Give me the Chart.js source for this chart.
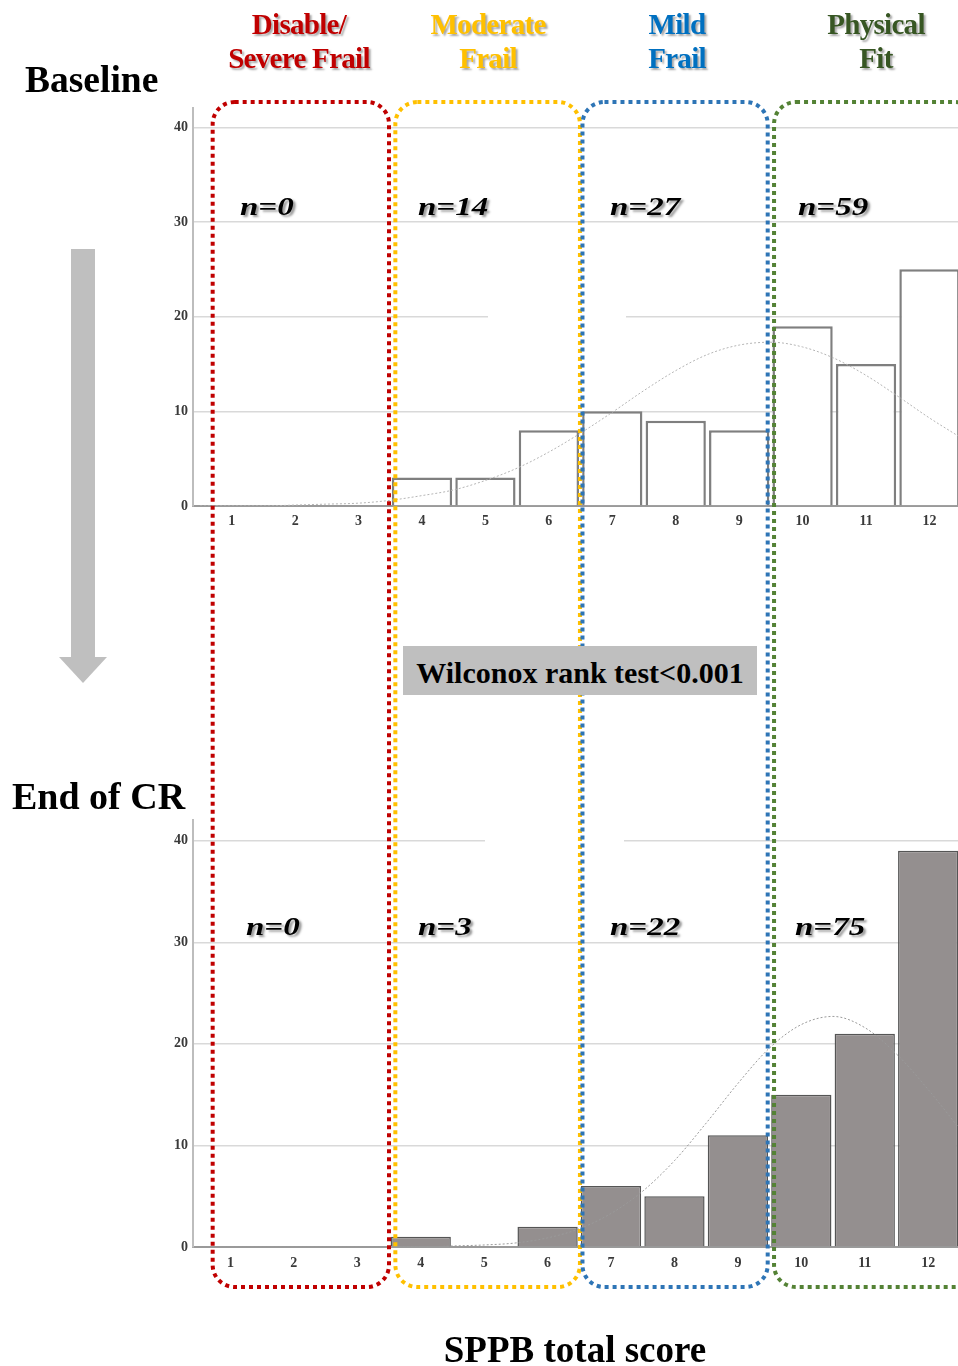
<!DOCTYPE html>
<html><head><meta charset="utf-8">
<script src="https://cdn.jsdelivr.net/npm/chart.js@4.4.1/dist/chart.umd.min.js"></script>
<style>
html,body{margin:0;padding:0;background:#fff;}
#wrap{position:relative;width:958px;height:1366px;overflow:hidden;background:#fff;font-family:"Liberation Serif","Times New Roman",serif;}
canvas{position:absolute;}
.t{position:absolute;white-space:nowrap;font-weight:bold;line-height:1;color:#000;}
.hd{position:absolute;width:240px;text-align:center;font-weight:bold;font-size:29px;line-height:34px;letter-spacing:-0.7px;text-shadow:2px 2px 2px rgba(0,0,0,0.35);white-space:nowrap;}
.n{position:absolute;font-weight:bold;font-style:italic;font-size:26px;line-height:1;transform:scaleX(1.27);transform-origin:0 0;text-shadow:2px 2px 2px rgba(0,0,0,0.4);color:#000;white-space:nowrap;}
#wil{position:absolute;left:403px;top:646px;width:354px;height:47px;padding-top:2px;background:#BFBFBF;text-align:center;font-weight:bold;font-size:30px;line-height:49px;color:#000;white-space:nowrap;}
</style></head>
<body><div id="wrap">
<canvas id="top" width="800" height="436" style="left:158px;top:95px;width:800px;height:436px"></canvas>
<canvas id="bot" width="800" height="465" style="left:158px;top:807px;width:800px;height:465px"></canvas>
<canvas id="ov" width="958" height="1366" style="left:0;top:0;width:958px;height:1366px"></canvas>
<div class="t" style="left:25px;top:61px;font-size:37.5px;">Baseline</div>
<div class="t" style="left:12px;top:777px;font-size:38px;">End of CR</div>
<div class="t" style="left:0;width:1150px;text-align:center;top:1331px;font-size:37px;">SPPB total score</div>
<div id="wil">Wilconox rank test&lt;0.001</div>
<div id="labels"></div>
</div>
<script>
// ---- data ----
const scores = [1,2,3,4,5,6,7,8,9,10,11,12];
const baselineCounts = [0,0,0,3,3,8,10,9,8,19,15,25];
const endCounts = [0,0,0,1,0,2,6,5,11,15,21,39];
const yTicks = [0,10,20,30,40];
const curveX = [0.5,1,1.5,2,2.5,3,3.5,4,4.5,5,5.5,6,6.5,7,7.5,8,8.5,9,9.5,10,10.5,11,11.5,12,12.5];
const baselineCurve = [0.0,0.0,0.0,0.1,0.2,0.3,0.6,1.1,1.7,2.7,4.0,5.7,7.7,9.9,12.2,14.3,16.0,17.0,17.3,16.8,15.6,13.8,11.6,9.3,7.2];
const endCurve = [0.0,0.0,0.0,0.0,0.0,0.0,0.0,0.0,0.1,0.2,0.4,0.9,1.8,3.3,5.5,8.5,12.2,16.1,19.6,21.9,22.7,21.6,19.0,15.5,11.6];
const groupLine1 = ["Disable/","Moderate","Mild","Physical"];
const groupLine2 = ["Severe Frail","Frail","Frail","Fit"];
const groupScores = [[1,2,3],[4,5,6],[7,8,9],[10,11,12]];

// ---- layout / style ----
const groupColors = ['#C00000','#FFC000','#2E75B6','#548235'];
const headColors = ['#C00000','#FFC000','#0070C0','#375623'];
const headCenters = [299,488,677,876];
const boxStart = [0.7,3.58,6.53,9.55];
const boxEnd = [3.48,6.49,9.45,12.75];
const nTopLeft = [240,418,610,798];
const nBotLeft = [246,418,610,795];

function makeChart(id, counts, curve, o) {
  return new Chart(document.getElementById(id), {
    type: 'bar',
    data: {
      datasets: [
        { type:'line', data: curveX.map((x,i)=>({x:x, y:curve[i]})), borderColor:o.curveColor, borderWidth:1,
          borderDash:[2,2], pointRadius:0, cubicInterpolationMode:'monotone', fill:false, order:0 },
        { type:'bar', data: scores.map((s,i)=>({x:s, y:counts[i]})), backgroundColor:o.fill, borderColor:o.border,
          borderWidth:o.bw, barPercentage:0.95, categoryPercentage:1, order:1 }
      ]
    },
    options: {
      responsive:false, animation:false, devicePixelRatio:1,
      layout:{padding:{top:8,left:0,right:0,bottom:0}},
      plugins:{legend:{display:false}, tooltip:{enabled:false}},
      scales:{
        x:{ type:'linear', min:o.xmin, max:o.xmax, offset:false,
            grid:{display:false, drawTicks:false, offset:false},
            border:{display:true, color:'#9a9a9a', width:2},
            ticks:{padding:o.xpad, autoSkip:false, maxRotation:0, color:'#3a3a3a',
                   font:{family:'Liberation Serif', size:14, weight:'bold'}},
            afterBuildTicks: s => { s.ticks = scores.map(v => ({value:v})); },
            afterFit: s => { s.height = 25; } },
        y:{ type:'linear', min:0, max:42,
            grid:{color:'#d9d9d9', lineWidth:1.5, drawTicks:false},
            border:{display:true, color:'#bdbdbd', width:2},
            ticks:{padding:5, color:'#3a3a3a', font:{family:'Liberation Serif', size:14, weight:'bold'}},
            afterBuildTicks: s => { s.ticks = yTicks.map(v => ({value:v})); },
            afterFit: s => { s.width = 35; } }
      }
    }
  });
}

const topC = makeChart('top', baselineCounts, baselineCurve,
  {xmin:0.39, xmax:12.45, xpad:7, fill:'#ffffff', border:'#7f7f7f', bw:2.5, curveColor:'#b5b5b5'});
const botC = makeChart('bot', endCounts, endCurve,
  {xmin:0.41, xmax:12.47, xpad:8, fill:'#948f8f', border:'#555555', bw:1.5, curveColor:'#9a9a9a'});

// ---- labels ----
const lab = document.getElementById('labels');
function sumGroup(counts, g){ return g.reduce((a,s)=>a+counts[scores.indexOf(s)],0); }
groupLine1.forEach((t,i)=>{
  const d = document.createElement('div');
  d.className='hd'; d.style.left=(headCenters[i]-120)+'px'; d.style.top='7px'; d.style.color=headColors[i];
  d.innerHTML = t + '<br>' + groupLine2[i];
  lab.appendChild(d);
});
groupScores.forEach((g,i)=>{
  const a = document.createElement('div');
  a.className='n'; a.style.left=nTopLeft[i]+'px'; a.style.top='194px';
  a.textContent='n='+sumGroup(baselineCounts,g); lab.appendChild(a);
  const b = document.createElement('div');
  b.className='n'; b.style.left=nBotLeft[i]+'px'; b.style.top='914px';
  b.textContent='n='+sumGroup(endCounts,g); lab.appendChild(b);
});

// ---- overlay: arrow, grid gaps, dotted group boxes ----
const ctx = document.getElementById('ov').getContext('2d');
ctx.fillStyle='#BFBFBF';
ctx.fillRect(71,249,24,409);
ctx.beginPath(); ctx.moveTo(59,657); ctx.lineTo(107,657); ctx.lineTo(83,683); ctx.closePath(); ctx.fill();

ctx.strokeStyle='#ffffff'; ctx.lineWidth=3;
let gy = 95 + topC.scales.y.getPixelForValue(20);
ctx.beginPath(); ctx.moveTo(488,gy); ctx.lineTo(626,gy); ctx.stroke();
gy = 807 + botC.scales.y.getPixelForValue(40);
ctx.beginPath(); ctx.moveTo(485,gy); ctx.lineTo(624,gy); ctx.stroke();

function px(v){ return 158 + topC.scales.x.getPixelForValue(v); }
function rrect(x0,y0,x1,y1,r){
  ctx.beginPath();
  ctx.moveTo(x0+r,y0);
  ctx.lineTo(x1-r,y0); ctx.arcTo(x1,y0,x1,y0+r,r);
  ctx.lineTo(x1,y1-r); ctx.arcTo(x1,y1,x1-r,y1,r);
  ctx.lineTo(x0+r,y1); ctx.arcTo(x0,y1,x0,y1-r,r);
  ctx.lineTo(x0,y0+r); ctx.arcTo(x0,y0,x0+r,y0,r);
  ctx.closePath();
}
ctx.lineWidth=4; ctx.setLineDash([4,4]); ctx.lineCap='butt';
boxStart.forEach((s,i)=>{
  ctx.strokeStyle=groupColors[i];
  rrect(px(s), 102, px(boxEnd[i]), 1287, 22);
  ctx.stroke();
});
</script>
</body></html>
